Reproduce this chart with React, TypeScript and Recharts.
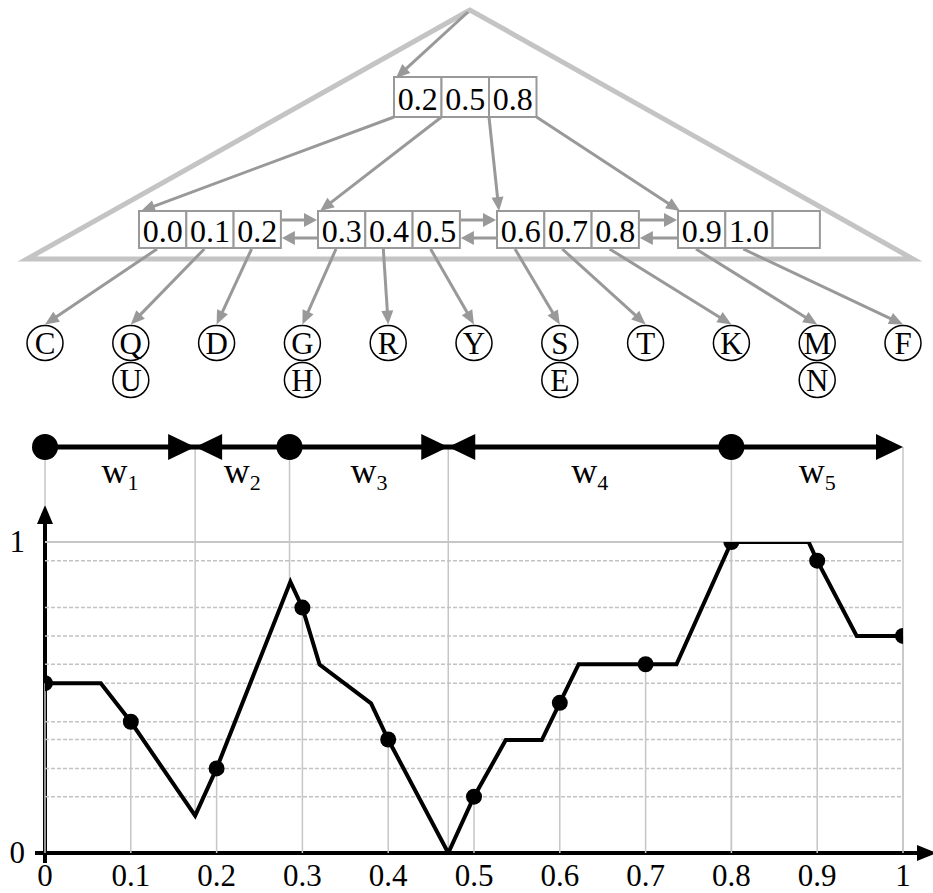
import React from 'react';
import { ComposedChart, Line, Scatter, XAxis, YAxis, ReferenceLine, Customized } from 'recharts';

// ---------- data ----------
const xTickValues = [0, 0.1, 0.2, 0.3, 0.4, 0.5, 0.6, 0.7, 0.8, 0.9, 1];
const xTickLabels = ['0', '0.1', '0.2', '0.3', '0.4', '0.5', '0.6', '0.7', '0.8', '0.9', '1'];
const yTickValues = [0, 1];
const yTickLabels = ['0', '1'];

const sampleX = [0, 0.1, 0.2, 0.3, 0.4, 0.5, 0.6, 0.7, 0.8, 0.9, 1];
const sampleY = [0.546, 0.422, 0.272, 0.789, 0.365, 0.181, 0.483, 0.607, 1.0, 0.94, 0.698];

const curveX = [0, 0.065, 0.1, 0.175, 0.2, 0.286, 0.3, 0.32, 0.38, 0.4, 0.47, 0.5, 0.537, 0.579, 0.6, 0.622, 0.7, 0.736, 0.8, 0.89, 0.9, 0.946, 1];
const curveY = [0.546, 0.546, 0.422, 0.12, 0.272, 0.872, 0.789, 0.606, 0.481, 0.365, 0, 0.181, 0.363, 0.363, 0.483, 0.607, 0.607, 0.607, 1, 1, 0.94, 0.698, 0.698];

const dashedGridY = [0.94, 0.789, 0.698, 0.607, 0.546, 0.422, 0.365, 0.272, 0.181];

const windowBounds = [0, 0.175, 0.285, 0.47, 0.8, 1];
const windowBoundBottoms = [1.12, 0.12, 0.872, 0, 0, 0];
const windowSubscripts = ['1', '2', '3', '4', '5'];
const windowDots = [0, 0.285, 0.8];
const rightArrowTips = [0.175, 0.47, 1];
const leftArrowTips = [0.175, 0.47];

const rootKeys = ['0.2', '0.5', '0.8'];
const leafKeys = [
  ['0.0', '0.1', '0.2'],
  ['0.3', '0.4', '0.5'],
  ['0.6', '0.7', '0.8'],
  ['0.9', '1.0', ''],
];
const leafTargets = [
  [0, 0.1, 0.2],
  [0.3, 0.4, 0.5],
  [0.6, 0.7, 0.8],
  [0.9, 1, null],
];
const recordLetters = [['C'], ['Q', 'U'], ['D'], ['G', 'H'], ['R'], ['Y'], ['S', 'E'], ['T'], ['K'], ['M', 'N'], ['F']];

// ---------- layout ----------
const W = 933;
const H = 893;
const PLOT = { left: 45, right: 903, top: 542, bottom: 853 };
const sx = (v: number) => PLOT.left + v * (PLOT.right - PLOT.left);
const sy = (v: number) => PLOT.bottom - v * (PLOT.bottom - PLOT.top);
const FONT = "'Liberation Serif', 'Times New Roman', Times, serif";
const TREE_GRAY = '#999999';
const GRID_GRAY = '#c6c6c6';
const txt = (size: number) => ({ fontFamily: FONT, fontSize: size });

const curve = curveX.map((x, i) => ({ x, y: curveY[i] }));
const samples = sampleX.map((x, i) => ({ x, y: sampleY[i] }));

function Arrow({ x1, y1, x2, y2, color = TREE_GRAY, width = 3, head = 14, half = 6 }: any) {
  const dx = x2 - x1;
  const dy = y2 - y1;
  const L = Math.hypot(dx, dy);
  const ux = dx / L;
  const uy = dy / L;
  const bx = x2 - ux * head;
  const by = y2 - uy * head;
  const px = -uy;
  const py = ux;
  return (
    <g>
      <line x1={x1} y1={y1} x2={bx + ux * 2} y2={by + uy * 2} stroke={color} strokeWidth={width} />
      <polygon points={`${x2},${y2} ${bx + px * half},${by + py * half} ${bx - px * half},${by - py * half}`} fill={color} />
    </g>
  );
}

function Decor() {
  const apex = { x: 470, y: 10 };
  const triL = { x: 27, y: 259 };
  const triR = { x: 913, y: 259 };
  const root = { left: 394, top: 77, cw: 47.5, h: 40 };
  const leafLefts = [139, 318, 497, 678];
  const leaf = { top: 211, cw: 47.3, h: 37 };
  const recY1 = 343;
  const recY2 = 380;
  const recRx = 18;
  const recRy = 17.5;
  const barY = 447;

  const els: any[] = [];

  els.push(
    <polygon key="tri" points={`${apex.x},${apex.y} ${triL.x},${triL.y} ${triR.x},${triR.y}`} fill="none" stroke="#c4c4c4" strokeWidth={5} strokeLinejoin="miter" />
  );
  els.push(<Arrow key="rootptr" x1={apex.x - 2} y1={apex.y + 2} x2={root.left + 2} y2={root.top + 1} />);

  rootKeys.forEach((k, i) => {
    const x = root.left + i * root.cw;
    els.push(
      <g key={'rc' + i}>
        <rect x={x} y={root.top} width={root.cw} height={root.h} fill="#fff" stroke={TREE_GRAY} strokeWidth={2} />
        <text x={x + root.cw / 2} y={root.top + 33} textAnchor="middle" style={txt(32)} fill="#000">{k}</text>
      </g>
    );
  });
  leafLefts.forEach((lx, i) => {
    els.push(<Arrow key={'rch' + i} x1={root.left + i * root.cw} y1={root.top + root.h} x2={lx + 2} y2={leaf.top} />);
  });

  leafKeys.forEach((keys, li) => {
    const lx = leafLefts[li];
    keys.forEach((k, ci) => {
      const x = lx + ci * leaf.cw;
      els.push(
        <g key={'lc' + li + '-' + ci}>
          <rect x={x} y={leaf.top} width={leaf.cw} height={leaf.h} fill="#fff" stroke={TREE_GRAY} strokeWidth={2} />
          {k ? (
            <text x={x + leaf.cw / 2} y={leaf.top + 31} textAnchor="middle" style={txt(32)} fill="#000">{k}</text>
          ) : null}
        </g>
      );
      const t = leafTargets[li][ci];
      if (t !== null && t !== undefined) {
        els.push(<Arrow key={'la' + li + '-' + ci} x1={x + 18} y1={leaf.top + leaf.h + 1} x2={sx(t)} y2={recY1 - recRy - 1} />);
      }
    });
    if (li < leafLefts.length - 1) {
      const r = lx + 3 * leaf.cw;
      const n = leafLefts[li + 1];
      els.push(<Arrow key={'sr' + li} x1={r + 1} y1={leaf.top + 9} x2={n - 1} y2={leaf.top + 9} head={13} half={7} />);
      els.push(<Arrow key={'sl' + li} x1={n - 1} y1={leaf.top + 27} x2={r + 1} y2={leaf.top + 27} head={13} half={7} />);
    }
  });

  recordLetters.forEach((letters, i) => {
    const cx = sx(sampleX[i]);
    letters.forEach((L, j) => {
      const cy = j === 0 ? recY1 : recY2;
      els.push(
        <g key={'rec' + i + '-' + j}>
          <ellipse cx={cx} cy={cy} rx={recRx} ry={recRy} fill="#fff" stroke="#000" strokeWidth={1.5} />
          <text x={cx} y={cy + 11} textAnchor="middle" style={txt(31)} fill="#000">{L}</text>
        </g>
      );
    });
  });

  windowBounds.forEach((b, i) => {
    els.push(<line key={'wb' + i} x1={sx(b)} y1={barY} x2={sx(b)} y2={i === 0 ? 505 : sy(windowBoundBottoms[i])} stroke={GRID_GRAY} strokeWidth={1.5} />);
  });
  els.push(<line key="bar" x1={sx(0)} y1={barY} x2={sx(1) - 20} y2={barY} stroke="#000" strokeWidth={5} />);
  windowDots.forEach((d, i) => {
    els.push(<circle key={'wd' + i} cx={sx(d)} cy={barY} r={13} fill="#000" />);
  });
  rightArrowTips.forEach((t, i) => {
    const x = sx(t);
    els.push(<polygon key={'ra' + i} points={`${x},${barY} ${x - 27},${barY - 13} ${x - 27},${barY + 13}`} fill="#000" />);
  });
  leftArrowTips.forEach((t, i) => {
    const x = sx(t);
    els.push(<polygon key={'lh' + i} points={`${x},${barY} ${x + 27},${barY - 13} ${x + 27},${barY + 13}`} fill="#000" />);
  });
  windowSubscripts.forEach((s, i) => {
    const cx = (sx(windowBounds[i]) + sx(windowBounds[i + 1])) / 2;
    els.push(
      <text key={'wl' + i} x={cx} y={483} textAnchor="middle" style={txt(36)} fill="#000">
        w<tspan style={{ fontSize: 22 }} dy={7}>{s}</tspan>
      </text>
    );
  });

  els.push(<line key="yax" x1={PLOT.left} y1={520} x2={PLOT.left} y2={PLOT.bottom + 10} stroke="#000" strokeWidth={4} />);
  els.push(<polygon key="yah" points={`${PLOT.left},${505} ${PLOT.left - 8},${524} ${PLOT.left + 8},${524}`} fill="#000" />);
  els.push(<line key="xax" x1={35} y1={PLOT.bottom} x2={920} y2={PLOT.bottom} stroke="#000" strokeWidth={4} />);
  els.push(<polygon key="xah" points={`${937},${PLOT.bottom} ${917},${PLOT.bottom - 8} ${917},${PLOT.bottom + 8}`} fill="#000" />);

  return <g>{els}</g>;
}

const XTick = (props: any) => {
  const idx = xTickValues.indexOf(props.payload.value);
  return (
    <text x={props.x} y={PLOT.bottom + 33} textAnchor="middle" style={txt(31)} fill="#000">
      {idx >= 0 ? xTickLabels[idx] : props.payload.value}
    </text>
  );
};

const YTick = (props: any) => {
  const idx = yTickValues.indexOf(props.payload.value);
  return (
    <text x={25} y={props.y + 10} textAnchor="end" style={txt(31)} fill="#000">
      {idx >= 0 ? yTickLabels[idx] : props.payload.value}
    </text>
  );
};

export default function App() {
  return (
    <div style={{ position: 'absolute', left: 0, top: 0, width: W, height: H, background: '#fff' }}>
      <ComposedChart width={W} height={H} margin={{ top: PLOT.top, right: W - PLOT.right, bottom: 0, left: 0 }}>
        <XAxis
          type="number"
          dataKey="x"
          domain={[0, 1]}
          ticks={xTickValues}
          interval={0}
          height={H - PLOT.bottom}
          axisLine={false}
          tickLine={false}
          tick={XTick}
          allowDataOverflow
        />
        <YAxis
          type="number"
          domain={[0, 1]}
          ticks={yTickValues}
          width={PLOT.left}
          axisLine={false}
          tickLine={false}
          tick={YTick}
          allowDataOverflow
        />
        {dashedGridY.map((v, i) => (
          <ReferenceLine key={'dg' + i} y={v} stroke="#c2c2c2" strokeDasharray="4 2" strokeWidth={1.5} />
        ))}
        <ReferenceLine y={1} stroke={GRID_GRAY} strokeWidth={2} />
        {samples.map((s, i) => (
          <ReferenceLine key={'vg' + i} segment={[{ x: s.x, y: 0 }, { x: s.x, y: s.y }]} stroke={GRID_GRAY} strokeWidth={1.5} />
        ))}
        <Line data={curve} dataKey="y" type="linear" stroke="#000" strokeWidth={4} dot={false} isAnimationActive={false} strokeLinejoin="miter" />
        <Scatter
          data={samples}
          dataKey="y"
          fill="#000"
          isAnimationActive={false}
          shape={(p: any) => <circle cx={p.cx} cy={p.cy} r={8} fill="#000" />}
        />
        <Customized component={Decor} />
      </ComposedChart>
    </div>
  );
}
